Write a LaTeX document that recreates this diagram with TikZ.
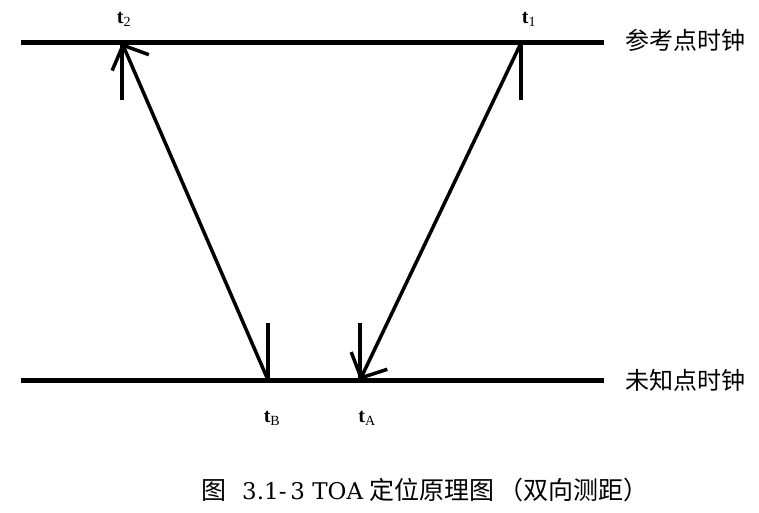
\documentclass[tikz,border=0pt]{standalone}
\usepackage{fontspec}
\setmainfont{Liberation Serif}
\newfontfamily\cjk{Noto Sans CJK SC}
\newfontfamily\capserif{DejaVu Serif}
\usetikzlibrary{arrows.meta}
\tikzset{
  clockline/.style={line width=5pt},
  tickline/.style={line width=3.3pt},
  signal/.style={line width=3.5pt,-{Straight Barb[length=19pt,width=40pt,line width=3.5pt]}},
  tlabel/.style={inner sep=0pt,font=\fontsize{20}{22}\selectfont},
  clocklabel/.style={inner sep=0pt,anchor=west,font=\cjk\fontsize{24}{28}\selectfont},
}
\begin{document}
\begin{tikzpicture}[x=1pt,y=-1pt]
\useasboundingbox (0,0) rectangle (759,513);
% clock lines
\coordinate (La) at (21,43);
\coordinate (Lb) at (604,43);
\coordinate (Ma) at (21,380);
\coordinate (Mb) at (604,380);
\draw[clockline] (La) -- (Lb);
\draw[clockline] (Ma) -- (Mb);
% event points
\coordinate (T2) at (122,43);
\coordinate (T1) at (521,43);
\coordinate (TB) at (268,380);
\coordinate (TA) at (360,380);
\coordinate (T2e) at (122,100);
\coordinate (T1e) at (521,100);
\coordinate (TBe) at (268,323);
\coordinate (TAe) at (360,323);
% ticks
\draw[tickline] (T2) -- (T2e);
\draw[tickline] (T1) -- (T1e);
\draw[tickline] (TB) -- (TBe);
\draw[tickline] (TA) -- (TAe);
% signals
\draw[signal] (TB) -- (T2);
\draw[signal] (T1) -- (TA);
% labels
\node[tlabel] (l2) at (124,19) {\textbf{t}$_{\mathrm{2}}$};
\node[tlabel] (l1) at (529,19) {\textbf{t}$_{\mathrm{1}}$};
\node[tlabel] (lB) at (272,418) {\textbf{t}$_{\mathrm{B}}$};
\node[tlabel] (lA) at (367,418) {\textbf{t}$_{\mathrm{A}}$};
\node[clocklabel] (ref) at (625,40) {参考点时钟};
\node[clocklabel] (unk) at (625,380) {未知点时钟};
\node[inner sep=0pt,anchor=west,font=\cjk\fontsize{25}{28}\selectfont] (cap) at (201,490)
  {图\hspace{16pt}{\capserif\fontsize{23}{28}\selectfont 3.1-\,3 TOA}\hspace{6pt}定位原理图\hspace{4pt}（双向测距）};
\end{tikzpicture}
\end{document}
